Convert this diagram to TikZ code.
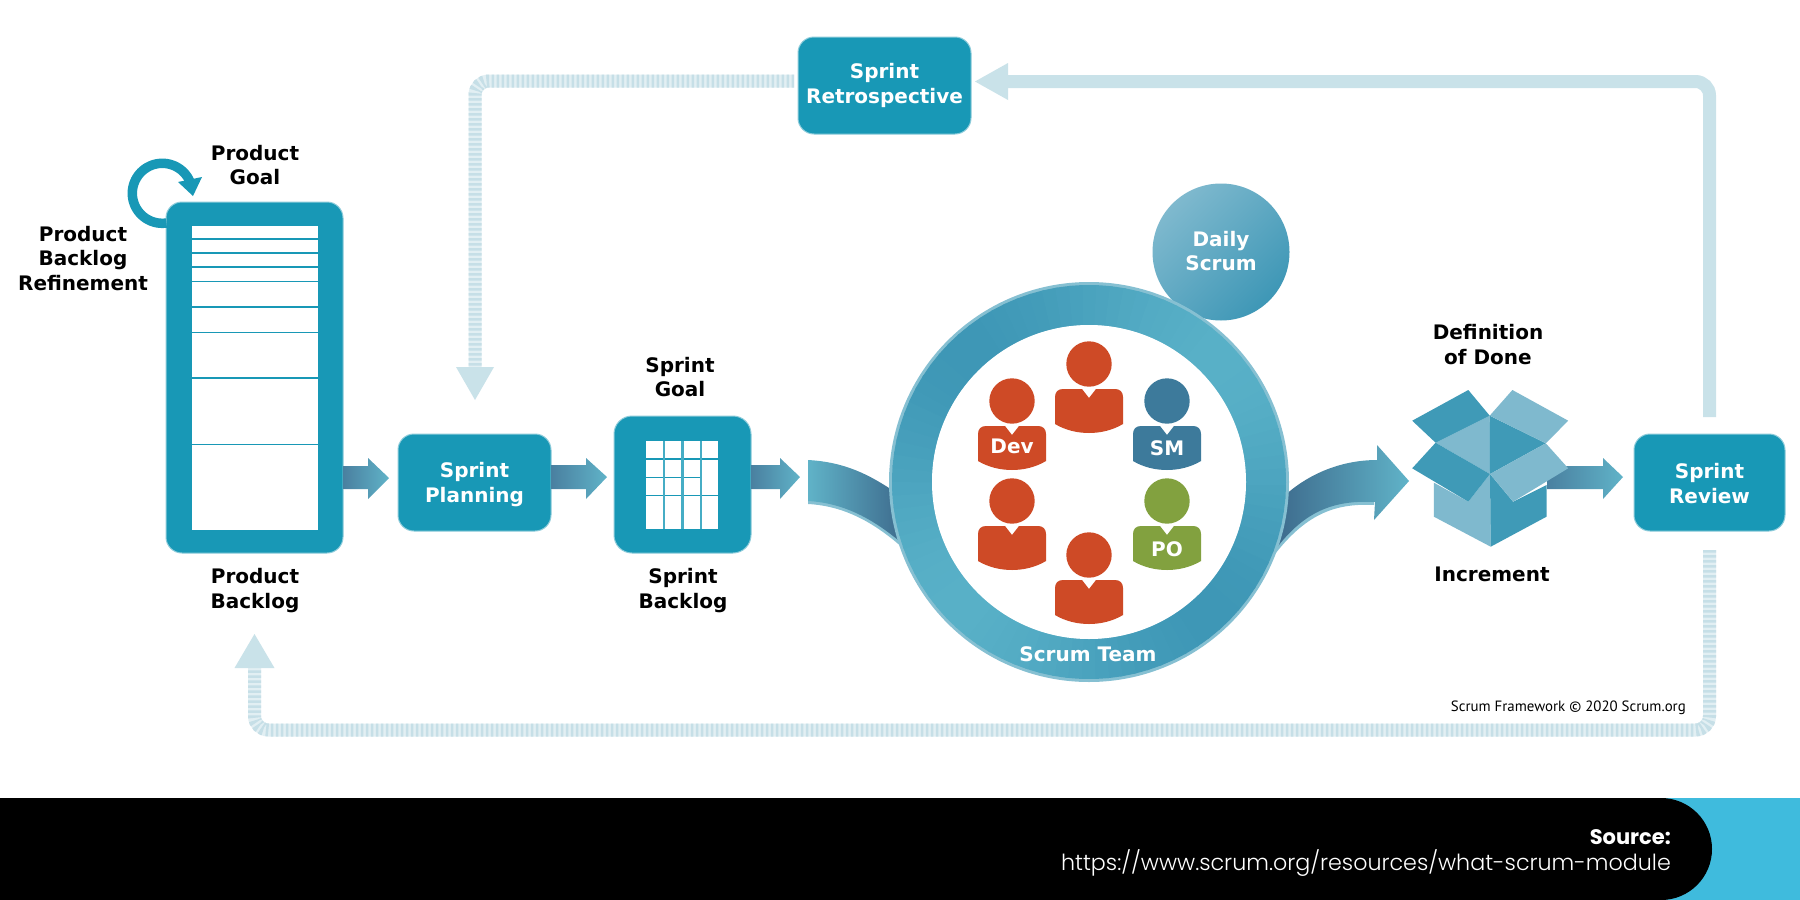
\documentclass[tikz,border=0pt]{standalone}
\usepackage{fontspec}
\setmainfont{DejaVu Sans}
\newfontfamily\srclight{Poppins Light}
\newfontfamily\srcbold{Poppins}
\newfontfamily\copyfont{PT Sans}
\usetikzlibrary{calc}
\definecolor{boxc}{HTML}{1898B6}
\definecolor{boxrim}{HTML}{8CCBDA}
\definecolor{flow}{HTML}{C9E2E9}
\definecolor{flowbg}{HTML}{E2EFF3}
\definecolor{flowst}{HTML}{C6DFE7}
\definecolor{ringD}{HTML}{3E97B6}
\definecolor{ringL}{HTML}{58B0C7}
\definecolor{ringrim}{HTML}{86C0D2}
\definecolor{arrD}{HTML}{4A80A0}
\definecolor{arrL}{HTML}{60B3C8}
\definecolor{swD}{HTML}{3D6A8C}
\definecolor{cubeD}{HTML}{3F9AB7}
\definecolor{cubeL}{HTML}{7FB9CE}
\definecolor{pred}{HTML}{CE4A26}
\definecolor{psm}{HTML}{3D7A9B}
\definecolor{ppo}{HTML}{82A13F}
\definecolor{cyanband}{HTML}{3FBBDD}
\tikzset{
  lbl/.style={font=\fontsize{20}{24.5}\selectfont\bfseries,align=center,text=black,inner sep=0pt},
  wlbl/.style={lbl,text=white},
  tealbox/.style={fill=boxc,draw=boxrim,line width=1pt,rounded corners=16pt,inner sep=0pt,align=center,font=\fontsize{20}{24.5}\selectfont\bfseries,text=white},
  blockarrow/.style={left color=arrD,middle color=arrL,right color=arrL,draw=none},
  solidflow/.style={draw=flow,line width=13pt,rounded corners=14pt},
  stripeflow/.style={draw=flowst,line width=13pt,rounded corners=14pt,dash pattern=on 2.5pt off 2.5pt},
  stripebase/.style={draw=flowbg,line width=13pt,rounded corners=14pt},
  gridline/.style={draw=boxc,line width=1.6pt},
  gridv/.style={draw=boxc!80!white,line width=2.4pt},
  blline/.style={draw=boxc,line width=1.5pt},
}
\newcommand{\person}[3]{%
  \begin{scope}[shift={(#1,#2)}]
    \fill[#3] (0,0) circle[radius=22.7pt];
    \fill[#3] (-34,60) -- (-34,33) .. controls (-34,28) and (-31,25) .. (-26,25) -- (-7,25) -- (0,34) -- (7,25) -- (26,25) .. controls (31,25) and (34,28) .. (34,33) -- (34,60) .. controls (14,72) and (-14,72) .. (-34,60) -- cycle;
  \end{scope}}
\begin{document}
\begin{tikzpicture}[x=1pt,y=-1pt]
\useasboundingbox (0,0) rectangle (1800,900);
\fill[white] (0,0) rectangle (1800,900);

% ---- feedback loops
\coordinate (revOut) at (1709.5,417);
\coordinate (retIn) at (1008,81.5);
\coordinate (retOut) at (794,81);
\coordinate (planIn) at (475,367);
\coordinate (revOut2) at (1709.5,550);
\coordinate (pbIn) at (254.5,668);
\draw[solidflow] (revOut) |- (retIn);
\fill[flow] (retIn) ++(0,-18.5) -- ++(-33,18.5) -- ++(33,18.5) -- cycle;
\draw[stripebase] (retOut) -| (planIn);
\draw[stripeflow] (retOut) -| (planIn);
\fill[flow] (planIn) ++(-19,0) -- ++(19,33) -- ++(19,-33) -- cycle;
\draw[stripebase] (revOut2) |- (254.5,730) -- (pbIn);
\draw[stripeflow] (revOut2) |- (254.5,730) -- (pbIn);
\fill[flow] (pbIn) ++(-20,0) -- ++(20,-34) -- ++(20,34) -- cycle;

% ---- boxes
\node[tealbox,minimum width=177pt,minimum height=351pt] (pb) at (254.5,377.5) {};
\fill[white] (192,226) rectangle (318,530);
\foreach \yy in {239,253,267,281.3,307,332.7,378,444.7}
  \draw[blline] (192,\yy) -- (318,\yy);
\draw[boxc,line width=9.5pt] plot[domain=82:336,samples=60] ({162.3+30*cos(\x)},{193.3+30*sin(\x)});
\fill[boxc] (202,177) -- (178,182) -- (193,196) -- cycle;

\node[tealbox,minimum width=153pt,minimum height=97pt] (plan) at (474.5,482.5) {\rule{0pt}{19pt}Sprint\\Planning};
\node[tealbox,minimum width=137pt,minimum height=137pt,rounded corners=18pt] (sb) at (682.5,484.5) {};
\fill[white] (646,441) rectangle (718,529);
\draw[gridline] (646,459) -- (718,459);
\draw[gridline] (646,477.3) -- (700.7,477.3);
\draw[gridline] (646,495.3) -- (718,495.3);
\foreach \xx in {664,682.3,700.7} \draw[gridv] (\xx,441) -- (\xx,529);
\node[tealbox,minimum width=173pt,minimum height=97pt] (retro) at (884.5,85.5) {Sprint\\Retrospective};
\node[tealbox,minimum width=151pt,minimum height=97pt] (review) at (1709.5,482.5) {\rule{0pt}{17pt}Sprint\\Review};

% ---- block arrows
\shade[blockarrow] (pb.east |- 0,466) -- (368,466) -- (368,458) -- (389,478) -- (368,499) -- (368,489) -- (pb.east |- 0,489) -- cycle;
\shade[blockarrow] (plan.east |- 0,465) -- (586,465) -- (586,458) -- (607,477) -- (586,499) -- (586,489) -- (plan.east |- 0,489) -- cycle;
\shade[blockarrow] (sb.east |- 0,465) -- (780,465) -- (780,458) -- (800,477) -- (780,499) -- (780,489) -- (sb.east |- 0,489) -- cycle;
\shade[blockarrow] (1547,466) -- (1603,466) -- (1603,458) -- (1623,477) -- (1603,499) -- (1603,489) -- (1547,489) -- cycle;

% ---- daily scrum
\node[circle,minimum size=137pt,inner sep=0pt] (daily) at (1221,252) {};
\shade[left color=cubeL,right color=ringD,shading angle=45] (daily.center) circle[radius=68.5pt];
\node[wlbl] (dailyt) at (1221,251) {Daily\\Scrum};

% ---- swooshes
\fill[ringrim] (808,463) .. controls (845,465) and (870,478) .. (895,495) -- (904,549) .. controls (875,523) and (845,506) .. (808,504) -- cycle;
\shade[left color=arrL,right color=swD] (808,460) .. controls (845,462) and (870,475) .. (895,492) -- (904,545) .. controls (875,520) and (845,503) .. (808,501) -- cycle;
\fill[ringrim] (1280,503) .. controls (1305,478) and (1340,463) .. (1377,463) -- (1374,505) .. controls (1335,503) and (1305,514) .. (1272,558) -- cycle;
\shade[left color=swD,middle color=arrL!85!swD,right color=arrL] (1280,500) .. controls (1305,475) and (1340,460) .. (1377,460) -- (1377,445) -- (1409,481) -- (1374,520) -- (1375,502) .. controls (1335,500) and (1305,510) .. (1275,550) -- cycle;

% ---- scrum team ring
\node[circle,minimum size=400pt,inner sep=0pt,fill=ringrim] (team) at (1089,482) {};
\foreach \a in {0,4,...,356}{%
  \pgfmathsetmacro\mm{50+50*sin(2*\a)}
  \colorlet{segc}{ringD!\mm!ringL}
  \draw[segc,line width=40pt] plot[domain=\a:\a+5,samples=4] ({1089+177*cos(\x)},{482+177*sin(\x)});
}
\fill[white] (team.center) circle[radius=157pt];
\node[wlbl] (teamt) at (1088,654) {Scrum Team};

% ---- people
\person{1089}{364}{pred}
\person{1012}{401}{pred}
\person{1167}{401}{psm}
\person{1012}{501}{pred}
\person{1167}{501}{ppo}
\person{1089}{555}{pred}
\node[wlbl] (dev) at (1012,446) {Dev};
\node[wlbl] (sm) at (1167,448) {SM};
\node[wlbl] (po) at (1167,549) {PO};

% ---- increment box
\fill[cubeL] (1490,474) -- (1468.3,501.7) -- (1433.9,482.7) -- (1433.9,516.7) -- (1490.7,546.7) -- cycle;
\fill[cubeD] (1490,474) -- (1513.1,501.7) -- (1546.5,485) -- (1546.5,516.7) -- (1490.7,546.7) -- cycle;
\fill[cubeL] (1489.7,415.7) -- (1435.6,442.7) -- (1490,474) -- cycle;
\fill[cubeD] (1489.7,415.7) -- (1545.8,443.3) -- (1490,474) -- cycle;
\fill[cubeD] (1468.3,390) -- (1489.7,415.7) -- (1435.6,442.7) -- (1412.2,420.7) -- cycle;
\fill[cubeL] (1512.4,390) -- (1568.2,420.7) -- (1545.8,443.3) -- (1489.7,415.7) -- cycle;
\fill[cubeD] (1435.6,442.7) -- (1490,474) -- (1468.3,501.7) -- (1412.2,468.3) -- cycle;
\fill[cubeL] (1545.8,443.3) -- (1568.2,468.3) -- (1513.1,501.7) -- (1490,474) -- cycle;

% ---- labels
\node[lbl] (pgoal) at (255,165) {Product\\Goal};
\node[lbl] (refine) at (83,258.5) {Product\\Backlog\\Refinement};
\node[lbl] (pback) at (255,590.5) {Product\\Backlog};
\node[lbl] (sgoal) at (680,377) {Sprint\\Goal};
\node[lbl] (sback) at (683,590.5) {Sprint\\Backlog};
\node[lbl] (dod) at (1488,344.5) {Definition\\of Done};
\node[lbl] (incr) at (1492,574) {Increment};
\node[anchor=east,inner sep=0pt,font=\copyfont\fontsize{14.9}{17}\selectfont] (copy) at (1686,708) {Scrum Framework © 2020 Scrum.org};

% ---- source band
\fill[cyanband] (1600,798) rectangle (1800,900);
\fill[black] (0,798) -- (1661,798) arc[start angle=90,end angle=-90,radius=51pt] -- (0,900) -- cycle;
\node[anchor=east,inner sep=0pt,text=white,font=\srcbold\bfseries\fontsize{21}{24}\selectfont] (src) at (1671,837) {Source:};
\node[anchor=east,inner sep=0pt,text=white,font=\srclight\fontsize{22.2}{26}\selectfont] (url) at (1671,863) {https://www.scrum.org/resources/what-scrum-module};
\end{tikzpicture}
\end{document}
